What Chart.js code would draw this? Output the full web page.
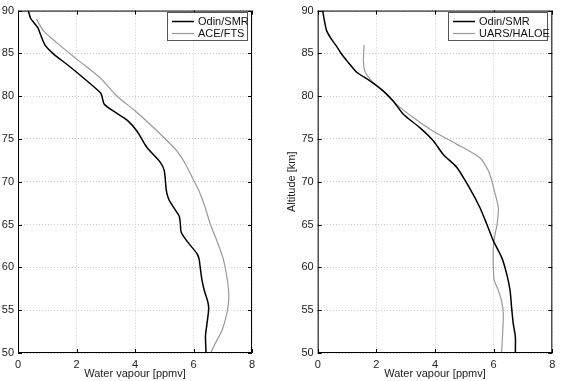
<!DOCTYPE html>
<html>
<head>
<meta charset="utf-8">
<script src="https://cdn.jsdelivr.net/npm/chart.js@4"></script>
<style>
  body { margin: 0; background: #fff; }
  #wrap { position: relative; width: 562px; height: 381px; }
  canvas { position: absolute; top: 0; }
  #left { left: 0; }
  #right { left: 270px; }
</style>
</head>
<body>
<div id="wrap">
  <canvas id="left" width="270" height="381"></canvas>
  <canvas id="right" width="292" height="381"></canvas>
</div>
<script>
// altitude [km] / water vapour [ppmv]
const smrAltA = [90, 89.1, 88.6, 88.0, 87.2, 86.0, 85.0, 83.7, 82.1, 80.4, 80.0, 79.05, 78.1, 77.2, 75.9, 74.0, 72.3, 71.3, 69.0, 68.0, 67.0, 66.0, 65.1, 64.1, 63.1, 61.6, 61.0, 60.0, 58.5, 57.3, 56.1, 55.2, 53.4, 52.0, 50];
const smrValA = [0.35, 0.43, 0.54, 0.68, 0.77, 0.92, 1.19, 1.68, 2.25, 2.82, 2.87, 2.95, 3.33, 3.73, 4.07, 4.41, 4.86, 5.0, 5.07, 5.15, 5.32, 5.51, 5.55, 5.58, 5.77, 6.12, 6.19, 6.23, 6.29, 6.37, 6.48, 6.52, 6.46, 6.41, 6.43];

const aceAlt = [89.0, 87.6, 86.2, 84.3, 82.1, 80.0, 78.3, 76.7, 75.2, 73.6, 72.1, 70.2, 69.0, 67.0, 65.1, 63.1, 61.2, 59.3, 57.3, 56.1, 54.6, 52.6, 51.1, 50];
const aceVal = [0.63, 0.88, 1.34, 2.02, 2.82, 3.39, 4.0, 4.52, 4.98, 5.43, 5.72, 6.0, 6.18, 6.4, 6.57, 6.8, 7.0, 7.12, 7.2, 7.2, 7.14, 6.97, 6.74, 6.59];

const smrAltB = [90, 88.8, 87.6, 86.6, 85.8, 84.9, 83.7, 82.8, 81.8, 80.6, 79.4, 77.9, 76.3, 74.8, 73.2, 71.7, 69.2, 67.0, 65.1, 63.1, 61.2, 59.3, 57.3, 55.4, 53.4, 51.9, 50];
const smrValB = [0.17, 0.23, 0.31, 0.48, 0.65, 0.82, 1.1, 1.33, 1.78, 2.24, 2.58, 2.92, 3.49, 3.94, 4.28, 4.74, 5.19, 5.53, 5.76, 5.99, 6.27, 6.44, 6.56, 6.61, 6.67, 6.74, 6.74];

const haloeAlt = [86.0, 84.1, 82.9, 81.8, 80.6, 79.05, 77.5, 75.9, 74.4, 72.8, 71.3, 70.2, 69.0, 67.0, 65.1, 63.9, 62.4, 60.0, 58.5, 57.3, 56.1, 54.6, 52.6, 50];
const haloeVal = [1.58, 1.56, 1.61, 1.84, 2.24, 2.69, 3.26, 3.94, 4.74, 5.53, 5.82, 5.93, 6.02, 6.16, 6.12, 6.05, 5.99, 5.99, 6.02, 6.16, 6.27, 6.33, 6.31, 6.27];

Chart.defaults.font.family = "'Liberation Sans', Arial, sans-serif";
Chart.defaults.font.size = 11;
Chart.defaults.color = '#222';

function pts(vals, alts) {
  return vals.map(function(v, i) { return { x: v, y: alts[i] }; });
}

// box round the plot, ticks pointing inward, legend inside the top right corner
const framePlugin = {
  id: 'frame',
  afterDraw(chart, args, opts) {
    const ctx = chart.ctx, a = chart.chartArea;
    const xs = chart.scales.x, ys = chart.scales.y;
    ctx.save();
    ctx.strokeStyle = '#000';
    ctx.lineWidth = 1;
    ctx.strokeRect(a.left + 0.5, a.top + 0.5, a.right - a.left - 1, a.bottom - a.top - 1);
    ctx.beginPath();
    xs.ticks.forEach(function(t) {
      const px = Math.round(xs.getPixelForValue(t.value)) + 0.5;
      ctx.moveTo(px, a.bottom); ctx.lineTo(px, a.bottom - 4);
      ctx.moveTo(px, a.top); ctx.lineTo(px, a.top + 4);
    });
    ys.ticks.forEach(function(t) {
      const py = Math.round(ys.getPixelForValue(t.value)) + 0.5;
      ctx.moveTo(a.left, py); ctx.lineTo(a.left + 4, py);
      ctx.moveTo(a.right, py); ctx.lineTo(a.right - 4, py);
    });
    ctx.stroke();

    // legend
    const L = opts.box;
    ctx.fillStyle = '#fff';
    ctx.fillRect(L.x, L.y, L.w, L.h);
    ctx.strokeStyle = '#555';
    ctx.strokeRect(L.x + 0.5, L.y + 0.5, L.w - 1, L.h - 1);
    ctx.font = "11px 'Liberation Sans', Arial, sans-serif";
    ctx.textBaseline = 'middle';
    chart.data.datasets.forEach(function(ds, i) {
      const y = L.y + 9.5 + i * 12;
      ctx.strokeStyle = ds.borderColor;
      ctx.lineWidth = ds.borderWidth;
      ctx.beginPath();
      ctx.moveTo(L.x + 5, y); ctx.lineTo(L.x + 27, y);
      ctx.stroke();
      ctx.fillStyle = '#111';
      ctx.fillText(ds.label, L.x + 31, y);
    });
    ctx.restore();
  }
};

function makeChart(id, sets, yWidth, padRight, yTitle, legendBox) {
  return new Chart(document.getElementById(id), {
    type: 'scatter',
    data: {
      datasets: sets.map(function(s) {
        return {
          label: s.label, data: s.data, showLine: true,
          borderColor: s.color, borderWidth: s.width,
          pointRadius: 0, tension: 0.25, fill: false
        };
      })
    },
    options: {
      animation: false, responsive: false,
      layout: { padding: { left: 0, right: padRight, top: 9, bottom: 0 } },
      plugins: { legend: { display: false }, tooltip: { enabled: false }, frame: { box: legendBox } },
      scales: {
        x: {
          type: 'linear', min: 0, max: 8,
          ticks: { stepSize: 2, padding: 5, maxRotation: 0 },
          grid: { color: '#cccccc', drawTicks: false },
          border: { display: false, dash: [1, 2] },
          title: { display: true, text: 'Water vapour [ppmv]', padding: { top: 0, bottom: 0 } },
          afterFit: function(s) { s.height = 28; }
        },
        y: {
          type: 'linear', min: 50, max: 90,
          ticks: { stepSize: 5, padding: 4 },
          grid: { color: '#cccccc', drawTicks: false },
          border: { display: false, dash: [1, 2] },
          title: { display: !!yTitle, text: yTitle, padding: { top: 15, bottom: 0 } },
          afterFit: function(s) { s.width = yWidth; }
        }
      }
    },
    plugins: [framePlugin]
  });
}

makeChart('left', [
  { label: 'Odin/SMR', data: pts(smrValA, smrAltA), color: '#000', width: 1.5 },
  { label: 'ACE/FTS', data: pts(aceVal, aceAlt), color: '#999999', width: 1.2 }
], 18, 18, '', { x: 167, y: 12, w: 81, h: 29 });

makeChart('right', [
  { label: 'Odin/SMR', data: pts(smrValB, smrAltB), color: '#000', width: 1.5 },
  { label: 'UARS/HALOE', data: pts(haloeVal, haloeAlt), color: '#999999', width: 1.2 }
], 47.7, 9.7, 'Altitude [km]', { x: 178, y: 12, w: 100, h: 29 });
</script>
</body>
</html>
